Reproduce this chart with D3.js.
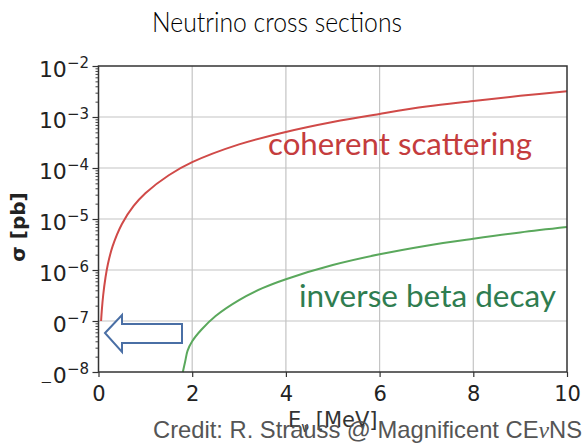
<!DOCTYPE html>
<html>
<head>
<meta charset="utf-8">
<script src="https://cdn.jsdelivr.net/npm/d3@7"></script>
<style>
  html, body { margin: 0; padding: 0; background: #fff; }
  svg { display: block; }
</style>
</head>
<body>
<svg id="chart" width="586" height="447"></svg>
<script>
// ---- data ----
const energyCoherent = [0.055, 0.07, 0.1, 0.15, 0.2, 0.3, 0.5, 0.75, 1, 1.5, 2, 3, 4, 5, 6, 7, 8, 9, 10];
const sigmaCoherent  = [1.0e-7, 1.6e-7, 3.2e-7, 7.2e-7, 1.3e-6, 2.9e-6, 8.0e-6, 1.8e-5, 3.2e-5, 7.2e-5, 1.3e-4, 2.9e-4, 5.1e-4, 8.0e-4, 1.15e-3, 1.6e-3, 2.05e-3, 2.6e-3, 3.2e-3];
const energyIBD = [1.8, 1.85, 1.9, 2.0, 2.2, 2.5, 3, 3.5, 4, 5, 6, 7, 8, 9, 10];
const sigmaIBD  = [1.0e-8, 1.6e-8, 2.6e-8, 4.0e-8, 6.8e-8, 1.25e-7, 2.56e-7, 4.4e-7, 6.6e-7, 1.25e-6, 2.03e-6, 3.0e-6, 4.1e-6, 5.45e-6, 6.95e-6];
const xTicks = [0, 2, 4, 6, 8, 10];
const yExponents = [-2, -3, -4, -5, -6, -7, -8];
const titleText = "Neutrino cross sections";
const labelCoherent = "coherent scattering";
const labelIBD = "inverse beta decay";

// ---- layout ----
const svg = d3.select("#chart");
const L = 98.5, R = 567, T = 66, B = 372;
const x = d3.scaleLinear().domain([0, 10]).range([L, R]);
const y = d3.scaleLog().domain([1e-8, 1e-2]).range([B, T]);

// grid
const grid = svg.append("g").attr("stroke", "#c4c4c4").attr("stroke-width", 1.2);
xTicks.filter(d => d > 0 && d < 10).forEach(d => {
  grid.append("line").attr("x1", x(d)).attr("x2", x(d)).attr("y1", T).attr("y2", B);
});
yExponents.map(e => Math.pow(10, e)).filter(v => v > 1e-8 && v < 1e-2).forEach(v => {
  grid.append("line").attr("x1", L).attr("x2", R).attr("y1", y(v)).attr("y2", y(v));
});

// curves
const line = d3.line().curve(d3.curveCatmullRom.alpha(0.5));
svg.append("path")
  .attr("d", line(energyCoherent.map((e, i) => [x(e), y(sigmaCoherent[i])])))
  .attr("fill", "none").attr("stroke", "#d04a48").attr("stroke-width", 2);
svg.append("path")
  .attr("d", line(energyIBD.map((e, i) => [x(e), y(sigmaIBD[i])])))
  .attr("fill", "none").attr("stroke", "#5aa85c").attr("stroke-width", 2);

// axes
const xAxis = d3.axisBottom(x).tickValues(xTicks).tickSize(5).tickFormat(d3.format("d"));
const gx = svg.append("g").attr("transform", `translate(0,${B})`).call(xAxis);
gx.select(".domain").remove();
gx.selectAll(".tick line").attr("stroke", "#333").attr("stroke-width", 1.2);
gx.selectAll(".tick text").attr("font-family", "DejaVu Sans").attr("font-size", 21)
  .attr("fill", "#222").attr("dy", null).attr("y", 29);

const yAxis = d3.axisLeft(y).tickValues(yExponents.map(e => Math.pow(10, e))).tickSize(6).tickFormat("");
const gy = svg.append("g").attr("transform", `translate(${L},0)`).call(yAxis);
gy.select(".domain").remove();
gy.selectAll(".tick line").attr("stroke", "#333").attr("stroke-width", 1.2);

// minor ticks
const minor = [];
for (let e = -8; e < -2; e++) for (let m = 2; m <= 9; m++) minor.push(m * Math.pow(10, e));
const yMinor = d3.axisLeft(y).tickValues(minor).tickSize(3).tickFormat("");
const gym = svg.append("g").attr("transform", `translate(${L},0)`).call(yMinor);
gym.select(".domain").remove();
gym.selectAll(".tick line").attr("stroke", "#444").attr("stroke-width", 1);

// y tick labels with superscripts
const yl = svg.append("g").attr("font-family", "DejaVu Sans").attr("fill", "#222");
yExponents.forEach(e => {
  const t = yl.append("text").attr("x", 89).attr("y", y(Math.pow(10, e)) + 10.5)
    .attr("text-anchor", "end").attr("font-size", 22);
  t.append("tspan").text("10");
  t.append("tspan").attr("font-size", 15).attr("dy", -9).text("\u2212" + Math.abs(e));
});

// frame
svg.append("rect").attr("x", L).attr("y", T).attr("width", R - L).attr("height", B - T)
  .attr("fill", "none").attr("stroke", "#333").attr("stroke-width", 1.5);

// covering shape from the slide (hides the leading "1" of the lower labels)
svg.append("rect").attr("x", 38).attr("y", 296).attr("width", 14.5).attr("height", 86).attr("fill", "#fff");

// axis labels
svg.append("text").attr("transform", `translate(25,${(T + B) / 2 + 8}) rotate(-90)`)
  .attr("text-anchor", "middle").attr("font-family", "DejaVu Sans").attr("font-weight", "bold")
  .attr("font-size", 20).attr("fill", "#222")
  .text("\u03c3 [pb]");
const xl = svg.append("text").attr("x", (L + R) / 2).attr("y", 427).attr("text-anchor", "middle")
  .attr("font-family", "DejaVu Sans").attr("font-size", 21).attr("fill", "#333");
xl.append("tspan").text("E");
xl.append("tspan").attr("font-size", 14).attr("dy", 5).text("\u03bd");
xl.append("tspan").attr("dy", -5).text(" [MeV]");

// series labels
svg.append("text").attr("x", 268).attr("y", 155).attr("font-family", "Lato").attr("font-size", 31)
  .attr("fill", "#c43c3d").attr("textLength", 264).attr("lengthAdjust", "spacingAndGlyphs").text(labelCoherent);
svg.append("text").attr("x", 299).attr("y", 307).attr("font-family", "Lato").attr("font-size", 31)
  .attr("fill", "#2f7d50").attr("textLength", 257).attr("lengthAdjust", "spacingAndGlyphs").text(labelIBD);

// hollow arrow
const arrowPts = [[105, 333], [122, 315], [122, 324], [182, 324], [182, 343], [122, 343], [122, 352]];
svg.append("path").attr("d", d3.line()(arrowPts) + "Z")
  .attr("fill", "#fff").attr("stroke", "#4a6fa5").attr("stroke-width", 2);

// title
svg.append("text").attr("x", 277).attr("y", 32).attr("text-anchor", "middle")
  .attr("font-family", "Lato").attr("font-size", 28).attr("font-weight", 300).attr("fill", "#000")
  .attr("textLength", 250).attr("lengthAdjust", "spacingAndGlyphs").text(titleText);

// credit
const cr = svg.append("text").attr("x", 153).attr("y", 438).attr("font-family", "Liberation Sans")
  .attr("font-size", 24).attr("fill", "#555")
  .attr("textLength", 429).attr("lengthAdjust", "spacingAndGlyphs");
cr.append("tspan").text("Credit: R. Strauss @ Magnificent CE");
cr.append("tspan").attr("font-family", "Liberation Serif").attr("font-style", "italic").text("\u03bd");
cr.append("tspan").text("NS");
</script>
</body>
</html>
